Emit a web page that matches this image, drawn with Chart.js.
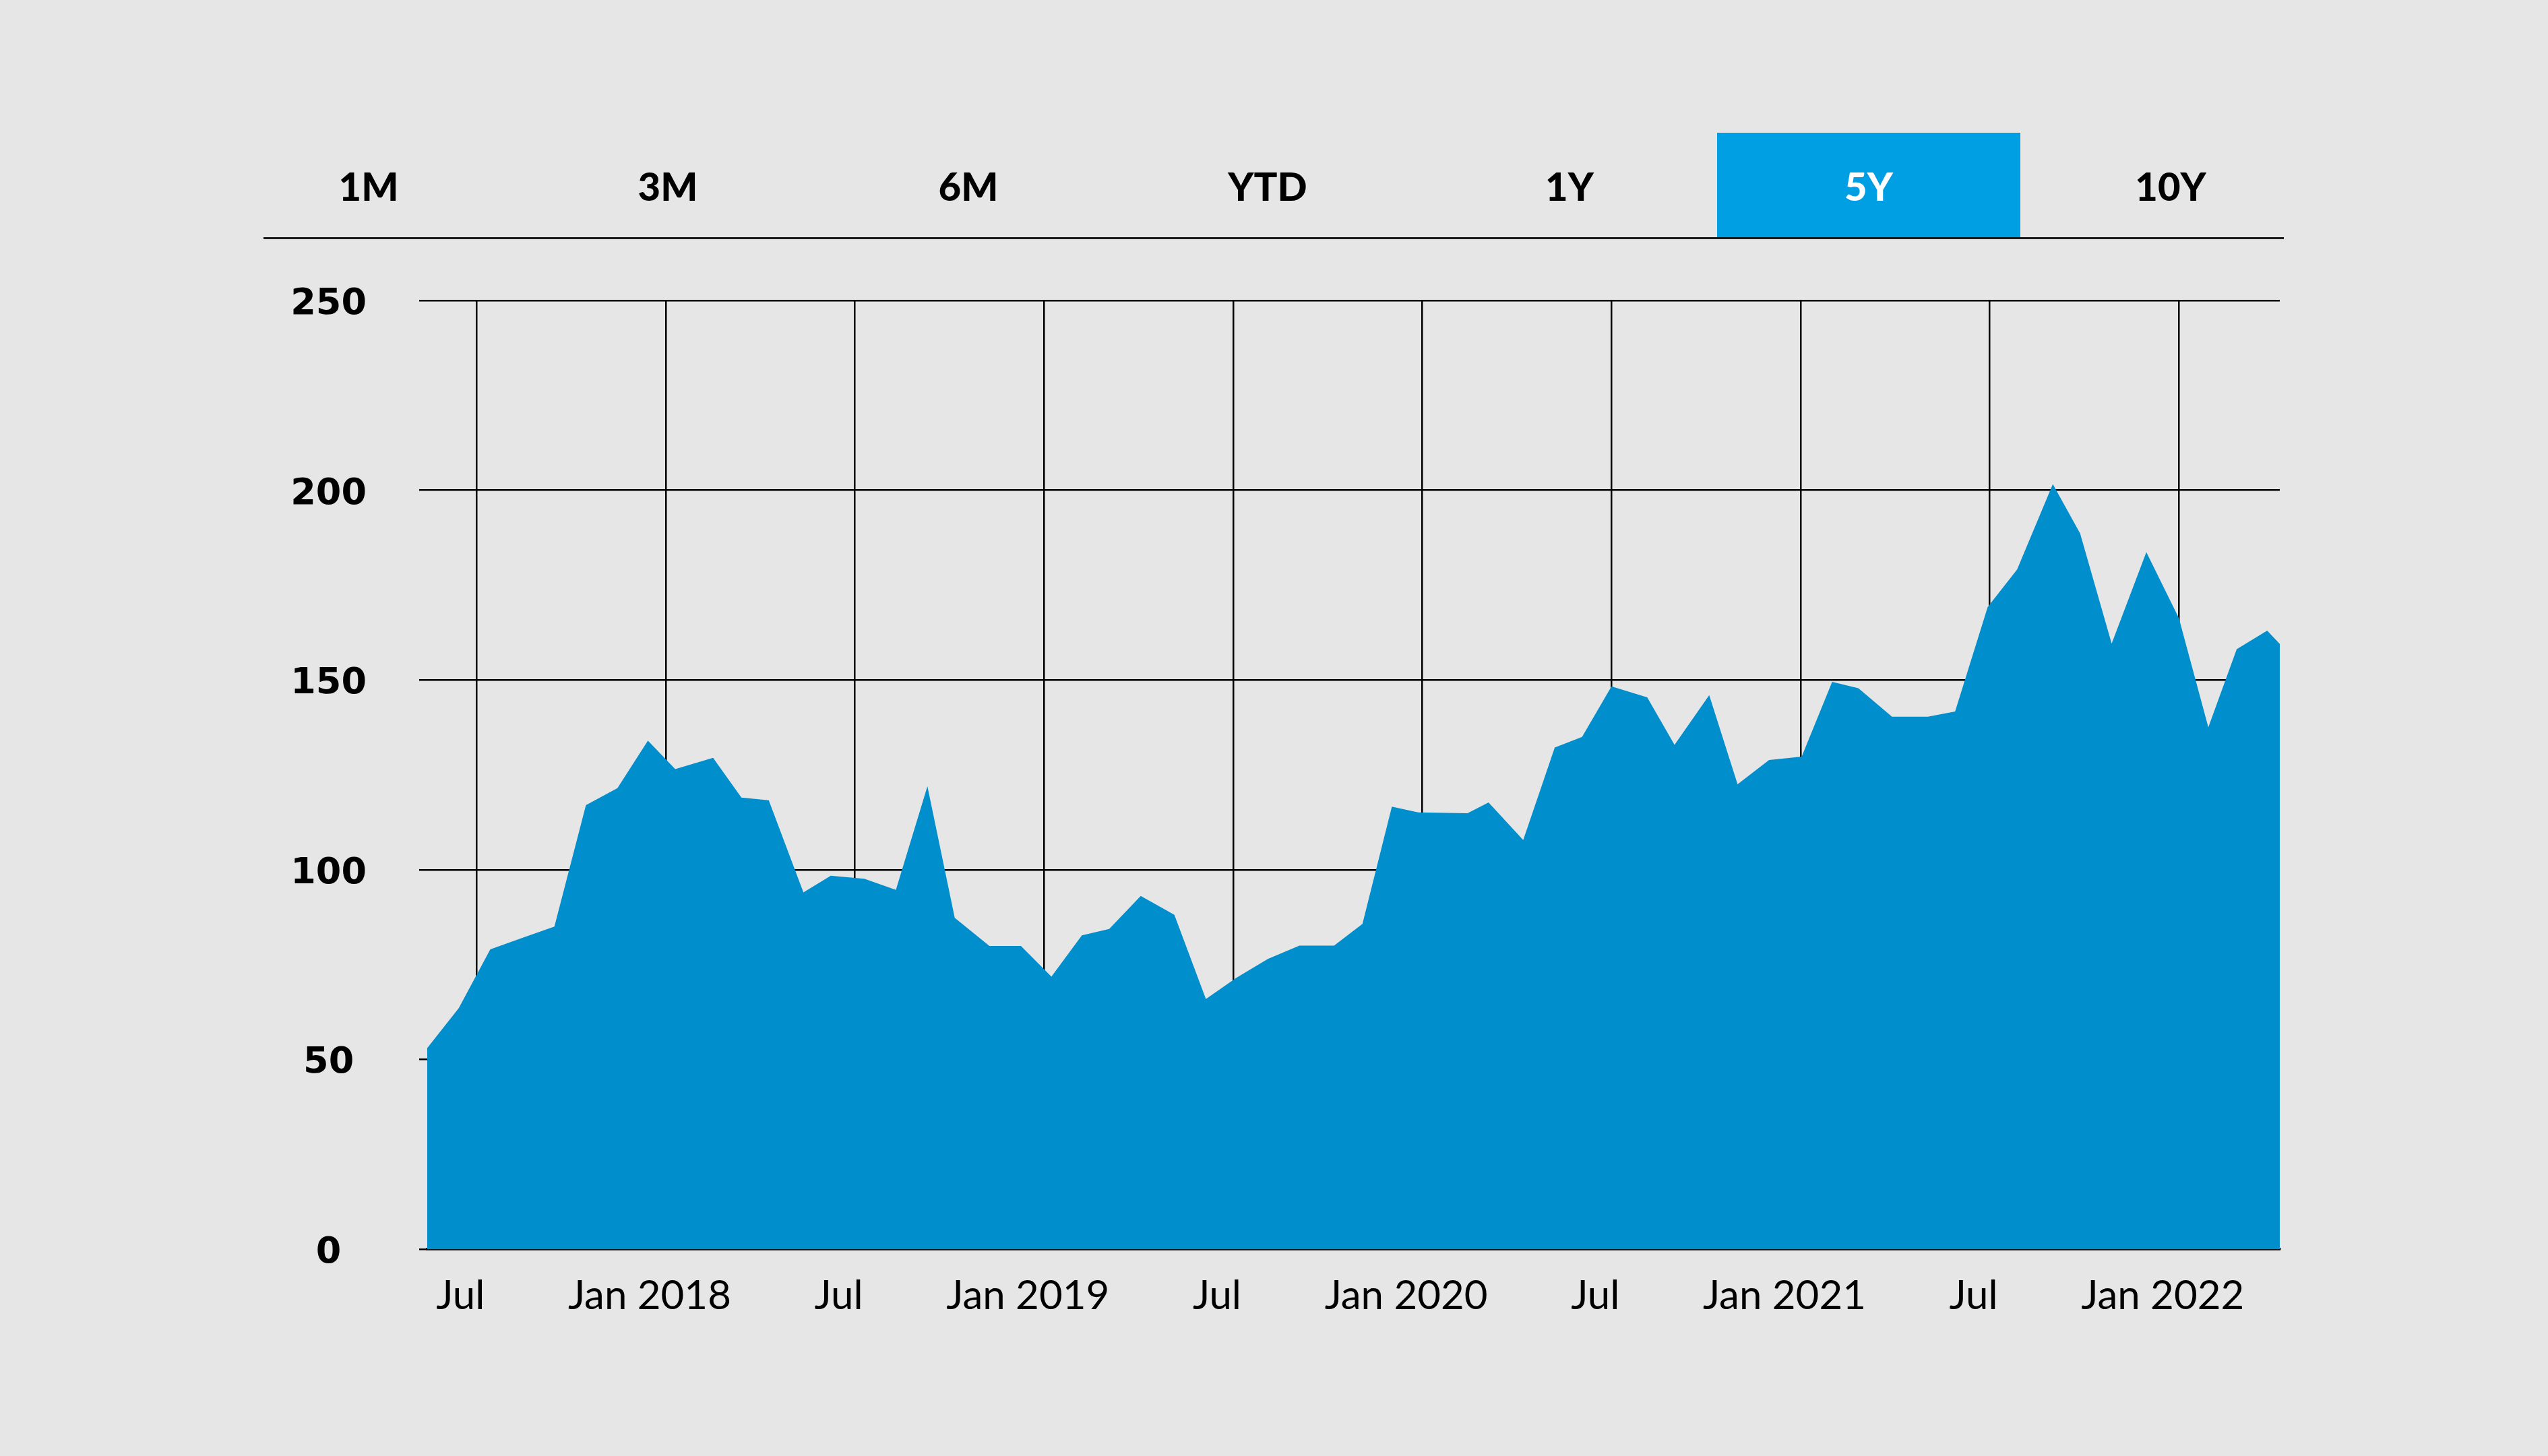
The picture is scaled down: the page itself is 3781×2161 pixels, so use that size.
<!DOCTYPE html>
<html>
<head>
<meta charset="utf-8">
<script src="https://cdn.jsdelivr.net/npm/chart.js@4"></script>
<style>
  body { margin: 0; background: #e6e6e6; }
  #wrap { position: relative; width: 3781px; height: 2161px; overflow: hidden; }
  #chart { position: absolute; left: 0; top: 0; }
  .range {
    position: absolute; top: 197px; width: 450px; height: 156px;
    font: 900 58px Lato, sans-serif; color: #000;
    display: flex; align-items: center; justify-content: center;
  }
  .range.active { background: #009fe3; color: #fff; }
  #rule { position: absolute; left: 391px; top: 352px; width: 2998px; height: 3px; background: #1a1a1a; }
</style>
</head>
<body>
<div id="wrap">
  <canvas id="chart" width="3781" height="2161"></canvas>
  <div id="ranges"></div>
  <div id="rule"></div>
</div>
<script>
// Range selector
const ranges = ['1M', '3M', '6M', 'YTD', '1Y', '5Y', '10Y'];
const activeRange = '5Y';

// Price series
const dates = [
  '2017-05-14', '2017-06-14', '2017-07-14', '2017-08-14', '2017-09-15', '2017-10-15',
  '2017-11-15', '2017-12-14', '2018-01-10', '2018-02-16', '2018-03-13', '2018-04-09',
  '2018-05-12', '2018-06-08', '2018-07-10', '2018-08-10', '2018-09-10', '2018-10-06',
  '2018-11-09', '2018-12-09', '2019-01-08', '2019-02-07', '2019-03-03', '2019-04-03',
  '2019-05-05', '2019-06-05', '2019-07-04', '2019-08-04', '2019-09-04', '2019-10-07',
  '2019-11-04', '2019-12-02', '2019-12-27', '2020-02-14', '2020-03-04', '2020-04-07',
  '2020-05-07', '2020-06-03', '2020-07-01', '2020-08-05', '2020-09-01', '2020-10-04',
  '2020-11-01', '2020-12-01', '2021-01-02', '2021-02-01', '2021-02-26', '2021-03-28',
  '2021-05-02', '2021-05-28', '2021-06-29', '2021-07-27', '2021-09-01', '2021-09-27',
  '2021-10-27', '2021-11-30', '2022-01-01', '2022-01-29', '2022-02-26', '2022-03-25',
  '2022-04-07'
];
const values = [
  53, 63.5, 79, 82, 85, 117,
  121.5, 134, 126.5, 129.5, 119, 118.3,
  94, 98.4, 97.6, 94.7, 122, 87.3,
  79.9, 79.9, 71.8, 82.7, 84.4, 93.1,
  88.1, 65.9, 71.5, 76.5, 80, 80,
  85.7, 116.6, 115.1, 114.9, 117.7, 107.8,
  132.2, 135, 148.3, 145.4, 132.9, 146,
  122.5, 128.9, 129.8, 149.5, 147.8, 140.3,
  140.3, 141.7, 169.2, 179.1, 201.6, 188.6,
  159.6, 183.7, 166.3, 137.5, 158.1, 163,
  159.5
];

// Axis ticks
const tickDates = ['2017-07-01', '2018-01-01', '2018-07-01', '2019-01-01', '2019-07-01',
                   '2020-01-01', '2020-07-01', '2021-01-01', '2021-07-01', '2022-01-01'];
const tickLabels = ['Jul', 'Jan 2018', 'Jul', 'Jan 2019', 'Jul',
                    'Jan 2020', 'Jul', 'Jan 2021', 'Jul', 'Jan 2022'];
const yTicks = [0, 50, 100, 150, 200, 250];

// months since Jan 2017
function toMonth(s) {
  const [y, m, d] = s.split('-').map(Number);
  return (y - 2017) * 12 + (m - 1) + (d - 1) / 30;
}

// Buttons
const centers = [547, 991, 1437, 1881, 2329, 2773, 3221];
const rangeBox = document.getElementById('ranges');
ranges.forEach((r, i) => {
  const div = document.createElement('div');
  div.className = 'range' + (r === activeRange ? ' active' : '');
  div.style.left = (centers[i] - 225) + 'px';
  div.textContent = r;
  rangeBox.appendChild(div);
});

const points = dates.map((d, i) => ({ x: toMonth(d), y: values[i] }));
const tickMonths = tickDates.map(toMonth);

new Chart(document.getElementById('chart').getContext('2d'), {
  type: 'line',
  data: {
    datasets: [{
      data: points,
      fill: 'origin',
      backgroundColor: '#018ecd',
      borderWidth: 0,
      pointRadius: 0,
      tension: 0
    }]
  },
  options: {
    responsive: false,
    animation: false,
    layout: { padding: { left: 400, right: 398, top: 446, bottom: 187 } },
    plugins: { legend: { display: false }, tooltip: { enabled: false } },
    scales: {
      x: {
        type: 'linear',
        z: 1,
        min: points[0].x,
        max: points[points.length - 1].x,
        afterBuildTicks: scale => { scale.ticks = tickMonths.map(v => ({ value: v })); },
        afterFit: scale => { scale.height = 120; },
        grid: { color: '#000', lineWidth: 2.5, drawTicks: false },
        border: { display: true, color: '#111', width: 3.5 },
        ticks: {
          padding: 34,
          labelOffset: -24,
          maxRotation: 0,
          autoSkip: false,
          color: '#000',
          font: { family: 'Lato', size: 60 },
          callback: (v, i) => tickLabels[i]
        }
      },
      y: {
        z: 1,
        min: 0,
        max: 250,
        afterBuildTicks: scale => { scale.ticks = yTicks.map(v => ({ value: v })); },
        afterFit: scale => { scale.width = 234; },
        grid: { color: '#000', lineWidth: 2.5, tickLength: 12 },
        border: { display: false },
        ticks: {
          padding: 78,
          labelOffset: 6,
          crossAlign: 'center',
          color: '#000',
          font: { family: 'DejaVu Sans', size: 54, weight: 'bold' }
        }
      }
    }
  }
});
</script>
</body>
</html>
